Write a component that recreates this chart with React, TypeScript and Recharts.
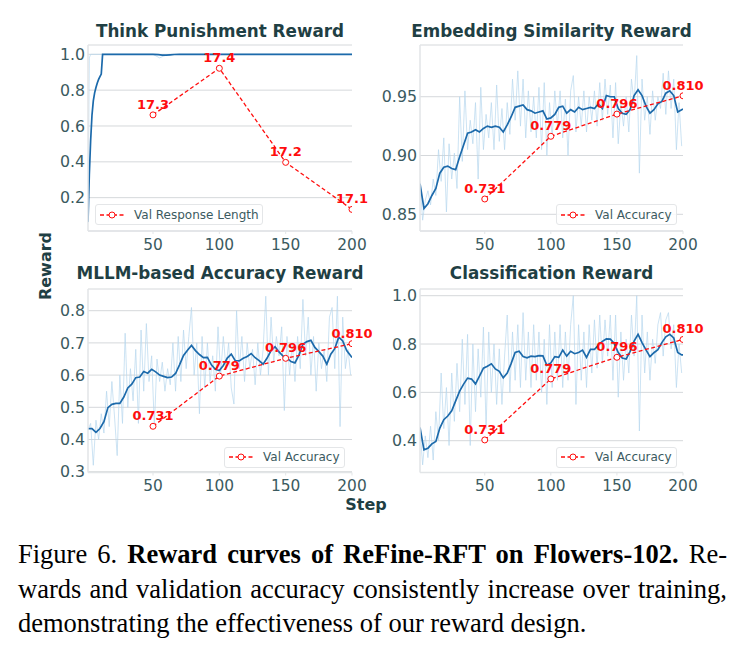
import React from 'react';
import { LineChart, Line, XAxis, YAxis, CartesianGrid, LabelList } from 'recharts';

// ---------- palette ----------
const TITLE_COLOR = '#1f3f44';
const TICK_COLOR = '#3b5a60';
const SMOOTH_COLOR = '#1c6aab';
const RAW_COLOR = '#b7d7ee';
const VAL_COLOR = '#ff0d0d';
const GRID_COLOR = '#d5d8db';
const SPINE_COLOR = '#e2e5e7';
const FONT = '"DejaVu Sans", sans-serif';

// ---------- steps ----------
const stepTicks = [50, 100, 150, 200];
const valSteps = [50, 100, 150, 200];
const rawSteps = Array.from({ length: 100 }, (_, i) => 1 + 2 * i);
const smoothSteps = [...Array.from({ length: 67 }, (_, i) => 1 + 3 * i), 200];

// ---------- Think Punishment Reward ----------
const thinkSmoothSteps = [1, 2, 3, 4, 5, 6, 7, 8, 9, 10, 11, 12, 13, 20, 30, 40, 50, 54, 57, 60, 63, 66, 70, 80, 90, 100, 110, 120, 130, 140, 150, 160, 170, 180, 190, 200];
const thinkSmooth = [0.065, 0.33, 0.52, 0.66, 0.74, 0.785, 0.815, 0.84, 0.86, 0.875, 0.89, 1.0, 1.0, 1.0, 1.0, 1.0, 1.0, 0.998, 0.996, 0.995, 0.997, 0.999, 1.0, 1.0, 1.0, 1.0, 1.0, 1.0, 1.0, 1.0, 1.0, 1.0, 1.0, 1.0, 1.0, 1.0];
const thinkRawSteps = [1, 2, 3, 50, 55, 58, 62, 200];
const thinkRaw = [0.06, 0.98, 1.0, 1.0, 0.98, 0.99, 1.0, 1.0];
const thinkVal = [17.3, 17.404, 17.194, 17.089];

// ---------- Embedding Similarity Reward ----------
const embSmooth = [
  0.876, 0.855, 0.859, 0.866, 0.872, 0.885, 0.890, 0.891, 0.889, 0.888,
  0.899, 0.909, 0.919, 0.920, 0.922, 0.920, 0.923, 0.925, 0.924, 0.925,
  0.924, 0.920, 0.926, 0.933, 0.941, 0.942, 0.943, 0.939, 0.938, 0.936,
  0.937, 0.938, 0.931, 0.932, 0.935, 0.941, 0.942, 0.936, 0.939, 0.937,
  0.941, 0.939, 0.940, 0.941, 0.940, 0.944, 0.940, 0.951, 0.950, 0.950,
  0.940, 0.936, 0.935, 0.939, 0.951, 0.956, 0.951, 0.942, 0.936, 0.939,
  0.944, 0.946, 0.953, 0.955, 0.951, 0.937, 0.939, 0.9395,
];
const embRaw = [
  0.878, 0.845, 0.862, 0.870, 0.858, 0.880, 0.866, 0.905, 0.878, 0.915,
  0.852, 0.910, 0.880, 0.902, 0.872, 0.950, 0.895, 0.955, 0.905, 0.930,
  0.910, 0.945, 0.880, 0.958, 0.905, 0.935, 0.915, 0.945, 0.905, 0.960,
  0.912, 0.940, 0.905, 0.945, 0.918, 0.965, 0.930, 0.972, 0.925, 0.965,
  0.915, 0.955, 0.920, 0.950, 0.915, 0.958, 0.905, 0.962, 0.900, 0.945,
  0.915, 0.955, 0.925, 0.955, 0.915, 0.948, 0.900, 0.955, 0.968, 0.920,
  0.950, 0.925, 0.955, 0.920, 0.950, 0.930, 0.955, 0.925, 0.962, 0.930,
  0.965, 0.935, 0.960, 0.915, 0.962, 0.910, 0.945, 0.925, 0.950, 0.920,
  0.965, 0.945, 0.985, 0.885, 0.965, 0.930, 0.950, 0.918, 0.955, 0.930,
  0.950, 0.940, 0.970, 0.935, 0.972, 0.940, 0.965, 0.905, 0.945, 0.908,
];
const accVal = [0.731, 0.779, 0.796, 0.81];

// ---------- MLLM-based Accuracy Reward ----------
const mllmSmooth = [
  0.434, 0.434, 0.422, 0.434, 0.455, 0.499, 0.509, 0.512, 0.512, 0.532,
  0.560, 0.572, 0.592, 0.594, 0.611, 0.606, 0.618, 0.610, 0.600, 0.596,
  0.592, 0.594, 0.605, 0.632, 0.661, 0.677, 0.692, 0.676, 0.664, 0.654,
  0.655, 0.632, 0.618, 0.614, 0.630, 0.653, 0.665, 0.645, 0.644, 0.652,
  0.658, 0.667, 0.654, 0.645, 0.634, 0.653, 0.676, 0.688, 0.672, 0.659,
  0.653, 0.642, 0.638, 0.662, 0.696, 0.704, 0.708, 0.686, 0.673, 0.659,
  0.634, 0.665, 0.682, 0.718, 0.706, 0.676, 0.660, 0.655,
];
const mllmRaw = [
  0.43, 0.45, 0.32, 0.46, 0.40, 0.48, 0.42, 0.55, 0.44, 0.58,
  0.47, 0.35, 0.60, 0.45, 0.73, 0.50, 0.62, 0.52, 0.68, 0.45,
  0.74, 0.55, 0.76, 0.58, 0.66, 0.44, 0.65, 0.58, 0.64, 0.55,
  0.62, 0.57, 0.70, 0.55, 0.72, 0.58, 0.74, 0.62, 0.72, 0.81,
  0.60, 0.70, 0.48, 0.72, 0.56, 0.70, 0.58, 0.66, 0.55, 0.75,
  0.60, 0.72, 0.62, 0.70, 0.56, 0.51, 0.80, 0.62, 0.72, 0.58,
  0.70, 0.62, 0.68, 0.57, 0.70, 0.60, 0.68, 0.845, 0.60, 0.78,
  0.64, 0.72, 0.66, 0.75, 0.49, 0.72, 0.60, 0.70, 0.58, 0.72,
  0.62, 0.835, 0.66, 0.78, 0.60, 0.72, 0.55, 0.70, 0.62, 0.68,
  0.58, 0.78, 0.81, 0.62, 0.845, 0.44, 0.78, 0.62, 0.68, 0.60,
];

// ---------- Classification Reward ----------
const clsSmooth = [
  0.455, 0.362, 0.369, 0.387, 0.397, 0.452, 0.487, 0.502, 0.524, 0.565,
  0.605, 0.634, 0.659, 0.655, 0.635, 0.667, 0.700, 0.708, 0.718, 0.697,
  0.687, 0.660, 0.680, 0.720, 0.765, 0.770, 0.748, 0.743, 0.750, 0.748,
  0.752, 0.751, 0.712, 0.722, 0.748, 0.745, 0.775, 0.750, 0.770, 0.760,
  0.765, 0.775, 0.745, 0.778, 0.778, 0.795, 0.811, 0.821, 0.820, 0.802,
  0.765, 0.742, 0.738, 0.770, 0.812, 0.840, 0.806, 0.776, 0.748, 0.764,
  0.777, 0.806, 0.830, 0.840, 0.825, 0.765, 0.755, 0.755,
];
const clsRaw = [
  0.45, 0.30, 0.42, 0.33, 0.46, 0.32, 0.52, 0.40, 0.68, 0.45,
  0.62, 0.38, 0.68, 0.48, 0.72, 0.52, 0.82, 0.55, 0.84, 0.38,
  0.80, 0.52, 0.78, 0.58, 0.87, 0.45, 0.85, 0.60, 0.80, 0.55,
  0.78, 0.55, 0.75, 0.92, 0.60, 0.85, 0.65, 0.88, 0.62, 0.93,
  0.65, 0.85, 0.62, 0.88, 0.65, 0.85, 0.60, 0.82, 0.55, 0.88,
  0.62, 0.85, 0.65, 0.88, 0.62, 0.85, 0.65, 0.88, 1.0, 0.55,
  0.88, 0.65, 0.85, 0.62, 0.88, 0.68, 0.90, 0.70, 0.92, 0.72,
  0.90, 0.75, 0.92, 0.65, 0.92, 0.58, 0.85, 0.65, 0.82, 0.68,
  0.92, 0.75, 1.0, 0.44, 0.92, 0.68, 0.85, 0.65, 0.82, 0.72,
  0.88, 0.93, 0.75, 0.90, 0.93, 0.78, 0.88, 0.62, 0.80, 0.68,
];

type Row = { step: number; raw?: number; smooth?: number; val?: number };

function buildRows(series: Record<'raw' | 'smooth' | 'val', [number[], number[]]>): Row[] {
  const map = new Map<number, Row>();
  (Object.keys(series) as ('raw' | 'smooth' | 'val')[]).forEach((key) => {
    const [steps, vals] = series[key];
    steps.forEach((s, i) => {
      const row = map.get(s) ?? { step: s };
      row[key] = vals[i];
      map.set(s, row);
    });
  });
  return [...map.values()].sort((a, b) => a.step - b.step);
}

interface PanelProps {
  title: string;
  rows: Row[];
  left: number;
  top: number;
  width: number;
  height: number;
  marginTop: number;
  marginRight: number;
  yAxisWidth: number;
  xAxisHeight: number;
  yDomain: [number, number];
  yTicks: number[];
  yDigits: number;
  valDomain: [number, number];
  valDigits: number;
  titleTop: number;
  legendLabel: string;
  legendLeft: number;
  legendTop: number;
  legendWidth: number;
}

const valDot = (props: any) => {
  const { cx, cy, value, index } = props;
  if (value == null || cy == null || cx == null) return <g key={`vd${index}`} />;
  return <circle key={`vd${index}`} cx={cx} cy={cy} r={3} fill="#fff" stroke={VAL_COLOR} strokeWidth={1} />;
};

const makeValLabel = (digits: number) => (props: any) => {
  const { x, y, value } = props;
  if (value == null || x == null || y == null) return null;
  return (
    <text x={x} y={y - 6} textAnchor="middle" fill={VAL_COLOR} fontSize={13} fontWeight="bold" fontFamily={FONT}>
      {Number(value).toFixed(digits)}
    </text>
  );
};

function ValLegend({ left, top, width, label }: { left: number; top: number; width: number; label: string }) {
  return (
    <div
      style={{
        position: 'absolute', left, top, width, height: 21, boxSizing: 'border-box',
        border: '1px solid #e4e6e8', borderRadius: 3, background: 'rgba(255,255,255,0.85)',
        display: 'flex', alignItems: 'center',
      }}
    >
      <svg width={28} height={12} style={{ marginLeft: 3, flex: 'none' }}>
        <line x1={1} y1={6} x2={26} y2={6} stroke={VAL_COLOR} strokeWidth={1.3} strokeDasharray="4 2.5" />
        <circle cx={13} cy={6} r={3} fill="#fff" stroke={VAL_COLOR} strokeWidth={1} />
      </svg>
      <span style={{ marginLeft: 7, fontSize: 12, color: TICK_COLOR, fontFamily: FONT, whiteSpace: 'nowrap' }}>{label}</span>
    </div>
  );
}

function Panel(p: PanelProps) {
  const plotLeft = p.left + p.yAxisWidth;
  const plotRight = p.left + p.width - p.marginRight;
  return (
    <>
      <div
        style={{
          position: 'absolute', left: plotLeft - 60, width: plotRight - plotLeft + 120, top: p.titleTop,
          textAlign: 'center', fontFamily: FONT, fontWeight: 'bold', fontSize: 16.8, lineHeight: '20px',
          color: TITLE_COLOR, whiteSpace: 'nowrap',
        }}
      >
        {p.title}
      </div>
      <div style={{ position: 'absolute', left: p.left, top: p.top }}>
        <LineChart
          width={p.width}
          height={p.height}
          data={p.rows}
          margin={{ top: p.marginTop, right: p.marginRight, left: 0, bottom: 0 }}
        >
          <CartesianGrid yAxisId="l" vertical={false} stroke={GRID_COLOR} strokeWidth={1} />
          <XAxis
            dataKey="step"
            type="number"
            domain={[1, 200]}
            ticks={stepTicks}
            allowDataOverflow
            height={p.xAxisHeight}
            tickSize={3}
            tickMargin={5}
            axisLine={{ stroke: SPINE_COLOR, strokeWidth: 1.5 }}
            tickLine={{ stroke: SPINE_COLOR }}
            tick={{ fill: TICK_COLOR, fontSize: 15.4, fontFamily: FONT }}
          />
          <YAxis
            yAxisId="l"
            type="number"
            domain={p.yDomain}
            ticks={p.yTicks}
            allowDataOverflow
            width={p.yAxisWidth}
            tickSize={0}
            tickMargin={3}
            tickFormatter={(v: number) => v.toFixed(p.yDigits)}
            axisLine={{ stroke: SPINE_COLOR, strokeWidth: 1.5 }}
            tickLine={false}
            tick={{ fill: TICK_COLOR, fontSize: 15.8, fontFamily: FONT }}
          />
          <YAxis yAxisId="r" orientation="right" type="number" domain={p.valDomain} allowDataOverflow hide />
          <Line
            yAxisId="l"
            dataKey="raw"
            type="linear"
            stroke={RAW_COLOR}
            strokeOpacity={0.7}
            strokeWidth={1}
            dot={false}
            activeDot={false}
            connectNulls
            isAnimationActive={false}
          />
          <Line
            yAxisId="l"
            dataKey="smooth"
            type="linear"
            stroke={SMOOTH_COLOR}
            strokeWidth={1.7}
            dot={false}
            activeDot={false}
            connectNulls
            isAnimationActive={false}
          />
          <Line
            yAxisId="r"
            dataKey="val"
            type="linear"
            stroke={VAL_COLOR}
            strokeWidth={1.3}
            strokeDasharray="4 2.5"
            dot={valDot}
            activeDot={false}
            connectNulls
            isAnimationActive={false}
          >
            <LabelList dataKey="val" content={makeValLabel(p.valDigits)} />
          </Line>
        </LineChart>
      </div>
      <ValLegend left={p.legendLeft} top={p.legendTop} width={p.legendWidth} label={p.legendLabel} />
    </>
  );
}

const thinkRows = buildRows({ raw: [thinkRawSteps, thinkRaw], smooth: [thinkSmoothSteps, thinkSmooth], val: [valSteps, thinkVal] });
const embRows = buildRows({ raw: [rawSteps, embRaw], smooth: [smoothSteps, embSmooth], val: [valSteps, accVal] });
const mllmRows = buildRows({ raw: [rawSteps, mllmRaw], smooth: [smoothSteps, mllmSmooth], val: [valSteps, accVal] });
const clsRows = buildRows({ raw: [rawSteps, clsRaw], smooth: [smoothSteps, clsSmooth], val: [valSteps, accVal] });

const leftCol = { left: 0, width: 372, marginRight: 20, yAxisWidth: 88 };
const rightCol = { left: 372, width: 373, marginRight: 62, yAxisWidth: 48 };
const topRow = { top: 0, height: 262, marginTop: 45, xAxisHeight: 31 };
const bottomRow = { top: 250, height: 254, marginTop: 39, xAxisHeight: 31.5 };

const captionLine: React.CSSProperties = {
  whiteSpace: 'nowrap', height: 34.5, lineHeight: '34.5px', textAlign: 'justify', textAlignLast: 'justify',
};

export default function App() {
  return (
    <div style={{ position: 'absolute', left: 0, top: 0, width: 745, height: 659, background: '#fff', overflow: 'hidden' }}>
      <Panel
        title="Think Punishment Reward"
        rows={thinkRows}
        {...leftCol}
        {...topRow}
        yDomain={[0.014, 1.052]}
        yTicks={[0.2, 0.4, 0.6, 0.8, 1.0]}
        yDigits={1}
        valDomain={[17.0408, 17.456]}
        valDigits={1}
        titleTop={21}
        legendLabel="Val Response Length"
        legendLeft={95}
        legendTop={204}
        legendWidth={168}
      />
      <Panel
        title="Embedding Similarity Reward"
        rows={embRows}
        {...rightCol}
        {...topRow}
        yDomain={[0.8358, 0.994]}
        yTicks={[0.85, 0.9, 0.95]}
        yDigits={2}
        valDomain={[0.7065, 0.8489]}
        valDigits={3}
        titleTop={21}
        legendLabel="Val Accuracy"
        legendLeft={556}
        legendTop={204}
        legendWidth={121}
      />
      <Panel
        title="MLLM-based Accuracy Reward"
        rows={mllmRows}
        {...leftCol}
        {...bottomRow}
        yDomain={[0.2975, 0.8674]}
        yTicks={[0.3, 0.4, 0.5, 0.6, 0.7, 0.8]}
        yDigits={1}
        valDomain={[0.6868, 0.8623]}
        valDigits={3}
        titleTop={263}
        legendLabel="Val Accuracy"
        legendLeft={224}
        legendTop={446.5}
        legendWidth={121}
      />
      <Panel
        title="Classification Reward"
        rows={clsRows}
        {...rightCol}
        {...bottomRow}
        yDomain={[0.2684, 1.0277]}
        yTicks={[0.4, 0.6, 0.8, 1.0]}
        yDigits={1}
        valDomain={[0.7054, 0.8497]}
        valDigits={3}
        titleTop={263}
        legendLabel="Val Accuracy"
        legendLeft={556}
        legendTop={446.5}
        legendWidth={121}
      />
      <div
        style={{
          position: 'absolute', left: -4.5, top: 256, width: 100, height: 20, lineHeight: '20px',
          transform: 'rotate(-90deg)', textAlign: 'center', fontFamily: FONT, fontWeight: 'bold',
          fontSize: 16, color: TITLE_COLOR,
        }}
      >
        Reward
      </div>
      <div
        style={{
          position: 'absolute', left: 316, top: 495, width: 100, height: 20, lineHeight: '20px',
          textAlign: 'center', fontFamily: FONT, fontWeight: 'bold', fontSize: 16, color: TITLE_COLOR,
        }}
      >
        Step
      </div>
      <div
        style={{
          position: 'absolute', left: 18, top: 537, width: 709, fontFamily: '"Liberation Serif", "Times New Roman", serif',
          fontSize: 26.5, color: '#000',
        }}
      >
        <div style={captionLine}>
          Figure 6. <b>Reward curves of ReFine-RFT on Flowers-102.</b> Re-
        </div>
        <div style={captionLine}>wards and validation accuracy consistently increase over training,</div>
        <div style={{ ...captionLine, textAlignLast: 'left' }}>demonstrating the effectiveness of our reward design.</div>
      </div>
    </div>
  );
}
